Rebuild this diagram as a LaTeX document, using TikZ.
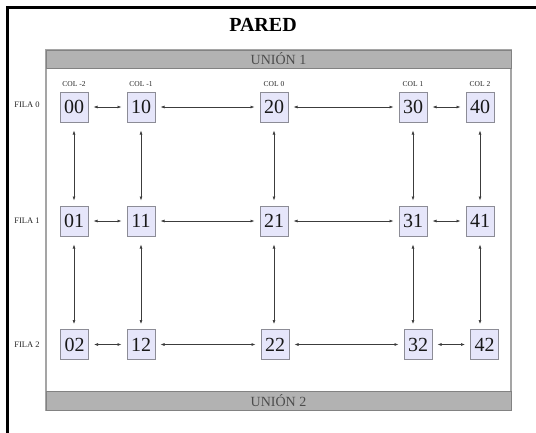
\documentclass[tikz,border=0pt]{standalone}
\usepackage{fontspec}
\setmainfont{Liberation Serif}
\usetikzlibrary{arrows.meta}
\definecolor{nodefill}{RGB}{230,230,250}
\definecolor{nodeline}{RGB}{140,140,150}
\definecolor{barfill}{RGB}{178,178,178}
\definecolor{barline}{RGB}{130,130,130}
\definecolor{frameline}{RGB}{165,165,165}
\definecolor{connline}{RGB}{60,60,60}
\tikzset{
  cell/.style={draw=nodeline, line width=1pt, fill=nodefill, minimum width=28pt, minimum height=30pt, inner sep=0pt, text=black!90, font=\fontsize{20}{22}\selectfont},
  collabel/.style={font=\fontsize{7.5}{8}\selectfont, text=black!85, inner sep=0pt},
  rowlabel/.style={font=\fontsize{8.5}{9}\selectfont, text=black!85, inner sep=0pt},
  bartext/.style={font=\fontsize{14}{16}\selectfont, text=black!70, inner sep=0pt},
  hconn/.style={draw=connline, line width=0.6pt, {Latex[length=4pt,width=3pt]}-{Latex[length=4pt,width=3pt]}, shorten <=5pt, shorten >=5pt},
  vconn/.style={draw=connline, line width=0.6pt, {Latex[length=4pt,width=3pt]}-{Latex[length=4pt,width=3pt]}, shorten <=8pt, shorten >=5pt},
}
\begin{document}
\begin{tikzpicture}[x=1pt,y=-1pt]
\useasboundingbox (0,0) rectangle (536,432);
% black frame
\draw[line width=3pt, line cap=rect] (7,432) -- (7,7) -- (536,7);
% title
\node[font=\fontsize{20}{22}\selectfont\bfseries, inner sep=0pt] (title) at (263,25) {PARED};
% inner area
\draw[draw=frameline, line width=1.5pt, fill=white] (46,50) rectangle (511,410);
\draw[draw=barline, line width=1pt, fill=barfill] (46,50) rectangle (511,68);
\node[bartext] (u1) at (278.5,59) {UNIÓN 1};
\draw[draw=barline, line width=1pt, fill=barfill] (46,391) rectangle (511,410);
\node[bartext] (u2) at (278.5,400.5) {UNIÓN 2};
% column labels
\node[collabel] (c0) at (74,84) {COL -2};
\node[collabel] (c1) at (141,84) {COL -1};
\node[collabel] (c2) at (274,84) {COL 0};
\node[collabel] (c3) at (413,84) {COL 1};
\node[collabel] (c4) at (480,84) {COL 2};
% row labels
\node[rowlabel] (r0) at (27,105) {FILA 0};
\node[rowlabel] (r1) at (27,221) {FILA 1};
\node[rowlabel] (r2) at (27,345) {FILA 2};
% cells
\node[cell] (n00) at (74,107) {00};
\node[cell] (n10) at (141,107) {10};
\node[cell] (n20) at (274,107) {20};
\node[cell] (n30) at (413,107) {30};
\node[cell] (n40) at (480,107) {40};
\node[cell] (n01) at (74,221) {01};
\node[cell] (n11) at (141,221) {11};
\node[cell] (n21) at (274,221) {21};
\node[cell] (n31) at (413,221) {31};
\node[cell] (n41) at (480,221) {41};
\node[cell] (n02) at (74.5,344.5) {02};
\node[cell] (n12) at (141,344.5) {12};
\node[cell] (n22) at (275,344.5) {22};
\node[cell] (n32) at (418,344.5) {32};
\node[cell] (n42) at (484.5,344.5) {42};
% horizontal connectors
\foreach \r in {0,1,2}{
  \draw[hconn] (n0\r) -- (n1\r);
  \draw[hconn] (n1\r) -- (n2\r);
  \draw[hconn] (n2\r) -- (n3\r);
  \draw[hconn] (n3\r) -- (n4\r);
}
% vertical connectors
\foreach \c in {0,1,2,3,4}{
  \draw[vconn] (n\c0.south) -- (n\c1.north);
  \draw[vconn] (n\c1.south) -- (n\c1.south |- n\c2.north);
}
\end{tikzpicture}
\end{document}
